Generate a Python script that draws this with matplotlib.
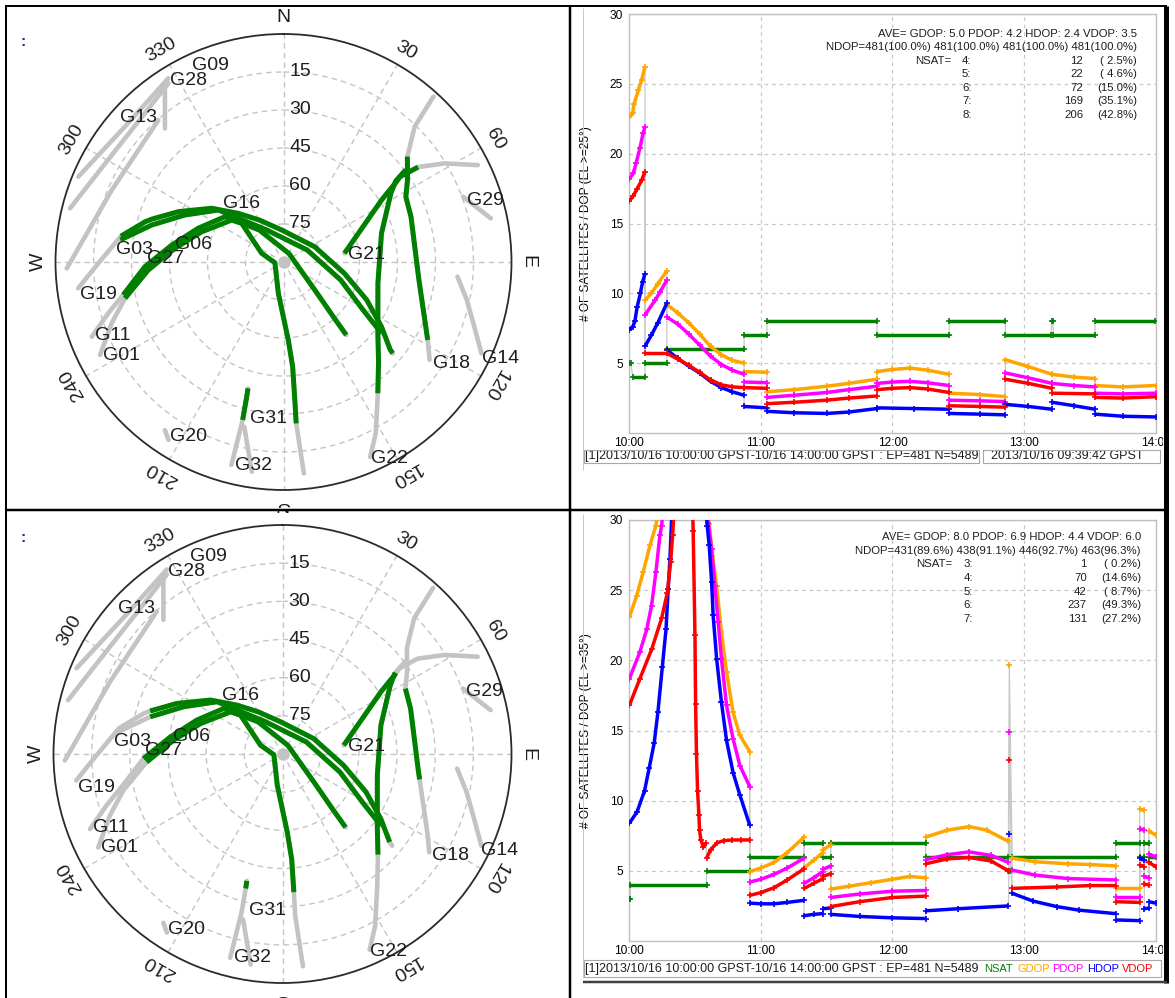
import numpy as np
import matplotlib
matplotlib.use("Agg")
import matplotlib.pyplot as plt
from matplotlib.lines import Line2D
from matplotlib.patches import Rectangle
from matplotlib.transforms import Bbox, TransformedBbox

plt.rcParams['font.family'] = ['Liberation Sans', 'DejaVu Sans']

W, H = 1175, 998

# ------------------------------------------------------------------ sky plot data
# satellite tracks as (azimuth deg, elevation deg)
trk_g19 = [(-97.3, 8.3), (-90.4, 16.9), (-81.0, 25.0), (-73.8, 33.1), (-72.0, 35.3), (-64.4, 44.0),
           (-53.2, 54.6), (-42.9, 63.8), (-29.9, 70.9), (-3.6, 77.3), (63.9, 76.3), (100.5, 65.6),
           (114.5, 53.9), (123.4, 43.7), (129.4, 35.5), (129.9, 33.8)]
trk_g03 = [(-82.3, 25.0), (-74.3, 36.0), (-64.5, 46.9), (-51.4, 57.1), (-27.7, 75.7), (63.3, 79.5),
           (107.5, 66.3), (121.1, 53.3), (126.0, 42.2)]
trk_g11 = [(-111.3, 8.8), (-106.3, 17.9), (-101.6, 25.4), (-91.9, 35.3), (-81.4, 45.4), (-68.4, 53.8),
           (-52.2, 60.8), (-37.1, 74.2), (31.8, 86.0), (131.8, 73.4), (137.7, 60.8), (139.3, 52.0)]
trk_g01 = [(243.1, 8.8), (250.4, 18.0), (257.1, 25.8), (266.6, 36.5), (277.2, 46.8), (290.3, 55.6),
           (309.0, 63.7), (312.8, 67.5), (291.8, 80.7), (265.3, 86.6), (189.4, 77.5), (176.5, 59.2),
           (175.0, 48.5), (175.3, 35.5), (175.5, 26.1), (174.5, 6.2)]
trk_g21 = [(81.9, 65.7), (66.1, 55.7), (57.7, 44.2), (54.6, 35.3), (53.8, 33.0), (54.8, 25.0),
           (58.5, 15.5), (63.5, 4.3)]
trk_g22 = [(156.0, 5.8), (151.7, 13.2), (144.3, 26.2), (136.5, 35.5), (127.1, 43.3), (102.7, 51.8),
           (73.7, 49.7), (57.4, 39.7), (54.2, 35.4), (53.0, 29.6)]
trk_g18 = [(123.8, 20.6), (118.4, 25.3), (100.5, 35.2), (96.2, 36.4), (70.5, 36.6), (62.0, 35.3),
           (56.5, 31.3), (49.6, 25.8), (44.1, 15.6), (42.2, 1.9)]
trk_g29 = [(70.0, 14.6), (78.1, 6.4)]
trk_g14 = [(94.8, 21.1), (101.7, 16.1), (108.7, 10.5), (114.8, 3.9)]
trk_g31 = [(194.4, 7.3), (194.5, 25.6), (195.3, 35.2), (195.7, 38.2)]
trk_g32 = [(188.6, 6.3), (193.4, 23.2)]
trk_g20 = [(215.2, 8.8), (212.9, 6.4)]
trk_g28 = [(327.9, 4.4), (310.5, 7.7), (292.6, 2.3)]
trk_g13 = [(327.2, 6.1), (304.9, 10.5), (284.1, 3.1)]
trk_g09 = [(325.9, 6.5), (318.4, 19.5)]
trk_nw = [(318.6, 15.3), (292.7, 16.5), (268.3, 4.4)]

sky_tracks = [trk_g28, trk_g13, trk_g09, trk_nw, trk_g29, trk_g14, trk_g20, trk_g32,
              trk_g19, trk_g03, trk_g11, trk_g01, trk_g21, trk_g22, trk_g18, trk_g31]

label_names = ['G09', 'G28', 'G13', 'G19', 'G11', 'G01', 'G03', 'G27', 'G06', 'G16',
               'G21', 'G29', 'G18', 'G14', 'G22', 'G31', 'G32', 'G20']
label_az = [335.0, 328.0, 311.5, 260.8, 248.8, 242.7, 274.1, 271.5, 278.9, 314.3,
            83.8, 71.3, 124.2, 115.9, 156.1, 192.1, 193.4, 213.1]
label_el = [4.2, 5.3, 3.8, 8.6, 10.2, 9.9, 23.6, 36.0, 46.6, 56.8,
            64.3, 13.7, 18.8, 3.1, 5.2, 26.9, 7.6, 7.7]

az_ticks = [0, 30, 60, 90, 120, 150, 180, 210, 240, 270, 300, 330]
az_names = ['N', '30', '60', 'E', '120', '150', 'S', '210', '240', 'W', '300', '330']
el_rings = [15, 30, 45, 60, 75]

# ------------------------------------------------------------------ DOP data
# time in minutes after 10:00 GPST
hour_ticks = [0, 60, 120, 180, 240]
hour_labels = ['10:00', '11:00', '12:00', '13:00', '14:00']

# number of satellites: (start, end, count)
top_nsat = [(0.0, 0.6, 5), (1.6, 7.1, 4), (7.1, 17.1, 5), (17.1, 52.3, 6), (52.3, 62.7, 7),
            (62.7, 112.9, 8), (112.9, 145.9, 7), (145.9, 171.5, 8), (171.5, 192.4, 7),
            (192.6, 193.2, 8), (193.4, 212.4, 7), (212.4, 239.6, 8)]
top_gdop = [([0, 1.5, 2.1, 4.1, 5.6, 7.1], [22.6, 22.9, 23.55, 24.55, 25.3, 26.2]),
            ([7.1, 10, 13, 17.1], [9.5, 10.0, 10.7, 11.6]),
            ([17.1, 22, 27, 32, 37, 42, 47, 52.3], [9.2, 8.6, 7.9, 7.1, 6.2, 5.6, 5.2, 5.0]),
            ([52.3, 62.7], [4.4, 4.35]),
            ([62.7, 75, 90, 100, 112.9], [2.95, 3.1, 3.35, 3.55, 3.85]),
            ([112.9, 120, 128, 136, 145.9], [4.4, 4.55, 4.65, 4.5, 4.2]),
            ([145.9, 160, 171.5], [2.85, 2.75, 2.6]),
            ([171.5, 182, 192.8], [5.25, 4.75, 4.2]),
            ([192.8, 203, 212.4], [4.2, 4.0, 3.9]),
            ([212.4, 225, 240], [3.4, 3.3, 3.4])]
top_pdop = [([0, 1.8, 3, 4.8, 6.3, 7.1], [18.2, 18.6, 19.3, 20.4, 21.5, 21.9]),
            ([7.1, 11.7, 14, 17.1], [8.45, 9.5, 10.1, 10.95]),
            ([17.1, 22, 27, 32, 37, 42, 47, 52.3], [8.3, 7.8, 7.1, 6.3, 5.5, 4.9, 4.5, 4.2]),
            ([52.3, 62.7], [3.65, 3.6]),
            ([62.7, 75, 90, 100, 112.9], [2.55, 2.7, 2.9, 3.1, 3.35]),
            ([112.9, 120, 128, 136, 145.9], [3.55, 3.65, 3.7, 3.6, 3.4]),
            ([145.9, 160, 171.5], [2.35, 2.3, 2.25]),
            ([171.5, 182, 192.8], [4.3, 3.95, 3.55]),
            ([192.8, 203, 212.4], [3.55, 3.4, 3.3]),
            ([212.4, 225, 240], [2.85, 2.8, 2.85])]
top_hdop = [([0, 1.5, 2.5, 3.5, 5, 6, 7.1], [7.4, 7.6, 8.0, 9.0, 10.0, 10.8, 11.4]),
            ([7.1, 10, 13, 17.1], [6.2, 7.0, 7.9, 9.3]),
            ([17.1, 22, 27, 32, 37, 42, 47, 52.3], [5.95, 5.35, 4.8, 4.3, 3.7, 3.25, 2.95, 2.7]),
            ([52.3, 62.7], [1.9, 1.8]),
            ([62.7, 75, 90, 100, 112.9], [1.55, 1.45, 1.4, 1.5, 1.75]),
            ([112.9, 130, 145.9], [1.8, 1.75, 1.7]),
            ([145.9, 160, 171.5], [1.4, 1.35, 1.3]),
            ([171.5, 182, 192.8], [2.05, 1.9, 1.7]),
            ([192.8, 203, 212.4], [2.2, 1.95, 1.7]),
            ([212.4, 225, 240], [1.35, 1.2, 1.15])]
top_vdop = [([0, 1.8, 3.6, 5.6, 7.1], [16.6, 17.0, 17.5, 18.1, 18.7]),
            ([7.1, 17.1], [5.7, 5.7]),
            ([17.1, 22, 27, 32, 37, 42, 47, 52.3], [5.7, 5.3, 4.85, 4.35, 3.8, 3.45, 3.3, 3.25]),
            ([52.3, 62.7], [3.25, 3.2]),
            ([62.7, 75, 90, 100, 112.9], [2.1, 2.2, 2.35, 2.5, 2.65]),
            ([112.9, 120, 128, 136, 145.9], [3.1, 3.2, 3.25, 3.15, 2.9]),
            ([145.9, 160, 171.5], [1.95, 1.9, 1.85]),
            ([171.5, 182, 192.8], [3.85, 3.55, 3.2]),
            ([192.8, 212.4], [2.85, 2.8]),
            ([212.4, 225, 240], [2.55, 2.5, 2.6])]

bot_nsat = [(0.0, 0.3, 3), (0.5, 35.2, 4), (35.2, 54.9, 5), (54.9, 79.7, 6), (79.7, 88.3, 7),
            (88.3, 91.8, 6), (91.8, 135.1, 7), (135.1, 172.9, 6), (173.1, 173.6, 5),
            (174.6, 221.8, 6), (221.8, 232.8, 7), (232.8, 234.9, 6), (234.9, 237.0, 7),
            (237.0, 240.0, 6)]
bot_gdop = [([0, 3.3, 6.3, 9.4, 12.1, 13.3], [23.1, 24.6, 26.3, 28.2, 29.6, 31.0]),
            ([35.8, 36.4, 37.9, 39.8, 42, 44.3, 47.3, 50.4, 54.9],
             [31.0, 29.7, 27.45, 25.3, 22.0, 19.2, 16.3, 14.65, 13.5]),
            ([54.9, 60, 66, 72, 79.7], [4.95, 5.2, 5.6, 6.3, 7.4]),
            ([79.7, 84, 88.3], [5.2, 5.75, 6.3]),
            ([88.3, 91.8], [6.5, 6.85]),
            ([91.8, 100, 110, 120, 128, 135.1], [3.7, 3.9, 4.15, 4.4, 4.6, 4.5]),
            ([135.1, 145, 155, 163, 172.9], [7.4, 7.9, 8.15, 7.9, 7.1]),
            ([173.3], [19.7]),
            ([174.6, 185, 200, 210, 221.8], [5.9, 5.65, 5.5, 5.45, 5.35]),
            ([221.8, 232.8], [3.75, 3.75]),
            ([232.8, 234.9], [9.4, 9.3]),
            ([234.9, 237.0], [5.7, 5.6]),
            ([237.0, 240.0], [7.85, 7.55])]
bot_pdop = [([0, 4.8, 7.9, 10.1, 12.1, 13.9, 14.7, 15.5], [18.7, 20.6, 22.2, 23.9, 26.3, 28.9, 29.6, 31.0]),
            ([35.3, 36, 37.5, 39, 40.5, 42, 44.3, 47.3, 50.4, 54.9],
             [31.0, 29.8, 27.9, 25.3, 22.7, 20.1, 16.8, 14.4, 12.5, 11.0]),
            ([54.9, 60, 66, 72, 79.7], [4.2, 4.4, 4.75, 5.2, 5.9]),
            ([79.7, 84, 88.3], [4.1, 4.5, 4.95]),
            ([88.3, 91.8], [5.1, 5.35]),
            ([91.8, 105, 120, 135.1], [3.1, 3.35, 3.55, 3.6]),
            ([135.1, 145, 155, 165, 172.9], [5.8, 6.15, 6.35, 6.1, 5.6]),
            ([173.3], [14.9]),
            ([174.6, 185, 200, 221.8], [5.05, 4.7, 4.45, 4.35]),
            ([221.8, 232.8], [3.15, 3.15]),
            ([232.8, 234.9], [8.0, 7.9]),
            ([234.9, 237.0], [4.6, 4.5]),
            ([237.0, 240.0], [6.2, 6.0])]
bot_hdop = [([0, 3.5, 6.9, 9, 11.3, 13, 15, 16.7, 17.7, 18.5, 19.5],
             [8.4, 9.2, 10.7, 12.3, 14.1, 16.3, 19.5, 22.2, 25.1, 27.2, 31.0]),
            ([34.8, 35.5, 36.4, 37.5, 38.2, 39.8, 42, 44.3, 47.3, 50.4, 54.9],
             [31.0, 29.6, 28.2, 25.6, 23.2, 20.1, 17.0, 14.3, 12.0, 10.4, 8.25]),
            ([54.9, 60, 66, 72, 79.7], [2.7, 2.65, 2.65, 2.75, 2.9]),
            ([79.7, 84, 88.3], [1.8, 1.9, 1.95]),
            ([88.3, 91.8], [2.3, 2.35]),
            ([91.8, 105, 120, 135.1], [1.9, 1.75, 1.65, 1.6]),
            ([135.1, 150, 172.9], [2.15, 2.3, 2.5]),
            ([173.3], [7.6]),
            ([174.6, 184, 195, 205, 221.8], [3.4, 2.85, 2.45, 2.2, 1.95]),
            ([221.8, 232.8], [1.5, 1.45]),
            ([232.8, 234.9], [5.9, 5.8]),
            ([234.9, 237.0], [2.3, 2.35]),
            ([237.0, 240.0], [2.8, 2.7])]
bot_vdop = [([0, 4.8, 10.2, 14.7, 17.3, 18.8, 19.7, 20.5], [16.8, 18.7, 20.8, 23.0, 24.8, 27.0, 28.9, 31.0]),
            ([28.8, 29.1, 29.9, 30.2, 30.6, 31.1, 31.7, 32.0, 32.6, 33.8, 35.0],
             [31.0, 29.2, 21.8, 16.9, 13.3, 10.7, 9.0, 7.9, 7.2, 6.7, 7.0]),
            ([35.2, 37, 40, 43, 47, 51, 54.9], [5.9, 6.5, 7.0, 7.15, 7.2, 7.2, 7.2]),
            ([54.9, 60, 66, 72, 79.7], [3.25, 3.45, 3.8, 4.35, 5.15]),
            ([79.7, 84, 88.3], [3.75, 4.1, 4.45]),
            ([88.3, 91.8], [4.6, 4.8]),
            ([91.8, 105, 120, 135.1], [2.45, 2.8, 3.1, 3.2]),
            ([135.1, 145, 155, 165, 172.9], [5.5, 5.85, 5.95, 5.7, 5.0]),
            ([173.3], [12.9]),
            ([174.6, 195, 210, 221.8], [3.75, 3.85, 3.95, 3.95]),
            ([221.8, 232.8], [2.8, 2.75]),
            ([232.8, 234.9], [5.4, 5.3]),
            ([234.9, 237.0], [4.05, 4.0]),
            ([237.0, 240.0], [5.6, 5.3])]

top_ave = 'AVE= GDOP: 5.0 PDOP: 4.2 HDOP: 2.4 VDOP: 3.5'
top_ndop = 'NDOP=481(100.0%) 481(100.0%) 481(100.0%) 481(100.0%)'
top_keys = [4, 5, 6, 7, 8]
top_counts = [12, 22, 72, 169, 206]
top_pcts = [2.5, 4.6, 15.0, 35.1, 42.8]

bot_ave = 'AVE= GDOP: 8.0 PDOP: 6.9 HDOP: 4.4 VDOP: 6.0'
bot_ndop = 'NDOP=431(89.6%) 438(91.1%) 446(92.7%) 463(96.3%)'
bot_keys = [3, 4, 5, 6, 7]
bot_counts = [1, 70, 42, 237, 131]
bot_pcts = [0.2, 14.6, 8.7, 49.3, 27.2]

status_text = '[1]2013/10/16 10:00:00 GPST-10/16 14:00:00 GPST : EP=481 N=5489'
cursor_text = '2013/10/16 09:39:42 GPST'
legend_names = ['NSAT', 'GDOP', 'PDOP', 'HDOP', 'VDOP']
legend_colors = ['#008000', '#ffa500', '#ff00ff', '#0000ff', '#ff0000']

# ------------------------------------------------------------------ helpers
fig = plt.figure(figsize=(W / 100, H / 100), dpi=100)
fig.patch.set_facecolor('white')


def px_box(x0, y0, x1, y1):
    return [x0 / W, 1 - y1 / H, (x1 - x0) / W, (y1 - y0) / H]


def clip_bbox(x0, y0, x1, y1):
    return TransformedBbox(Bbox.from_extents(x0 / W, 1 - y1 / H, x1 / W, 1 - y0 / H), fig.transFigure)


def fig_line(x0, y0, x1, y1, color, lw_px, z=30):
    fig.add_artist(Line2D([x0 / W, x1 / W], [1 - y0 / H, 1 - y1 / H], transform=fig.transFigure,
                          color=color, linewidth=lw_px * 0.72, zorder=z, solid_capstyle='butt'))


def fig_rect(x0, y0, x1, y1, edge, face='none', z=25, lw=0.8):
    fig.add_artist(Rectangle((x0 / W, 1 - y1 / H), (x1 - x0) / W, (y1 - y0) / H,
                             transform=fig.transFigure, edgecolor=edge, facecolor=face,
                             linewidth=lw, zorder=z))


def draw_sky(box, clip, mask):
    ax = fig.add_axes(px_box(*box), projection='polar')
    ax.set_theta_zero_location('N')
    ax.set_theta_direction(-1)
    ax.set_ylim(90, 0)
    ax.set_xticks(np.radians(az_ticks))
    ax.set_xticklabels([])
    ax.set_yticks(el_rings)
    ax.set_yticklabels([])
    ax.tick_params(length=0)
    ax.grid(True, color='#c4c4c4', linestyle=(0, (4, 3)), linewidth=1.0)
    ax.spines['polar'].set_color('#2a2a2a')
    ax.spines['polar'].set_linewidth(1.3)

    for trk in sky_tracks:
        az = np.radians([p[0] for p in trk])
        el = np.array([p[1] for p in trk], dtype=float)
        ax.plot(az, el, color='#c3c3c3', lw=3.3, solid_capstyle='round', zorder=3)
        up = np.where(el >= mask, el, np.nan)
        ax.plot(az, up, color='#008000', lw=3.6, solid_capstyle='butt', zorder=4)
    ax.plot(0, 90, 'o', color='#c3c3c3', ms=8, zorder=5)

    for name, a, e in zip(label_names, label_az, label_el):
        ax.text(np.radians(a), e, name, ha='left', va='center', fontsize=14,
                color='#1e1e1e', zorder=6)
    for v in el_rings:
        ax.annotate(str(v), xy=(0, v), xytext=(6, 0), textcoords='offset pixels',
                    ha='left', va='center', fontsize=14, color='#1e1e1e', zorder=6)
    bb = clip_bbox(*clip)
    for a, name in zip(az_ticks, az_names):
        t = ax.text(np.radians(a), -6.6, name, rotation=-a, rotation_mode='anchor',
                    ha='center', va='center', fontsize=14, color='#1e1e1e', clip_on=True)
        t.set_clip_path(None)
        t.set_clip_box(bb)
    return ax


def draw_dop(box, nsat, series, ylabel, ave, ndop, keys, counts, pcts, xr, y0, dy, xkey, xcnt):
    ax = fig.add_axes(px_box(*box))
    ax.set_xlim(0, 240)
    ax.set_ylim(0, 30)
    for sp in ax.spines.values():
        sp.set_color('#c0c0c0')
        sp.set_linewidth(1.0)
    ax.set_xticks(hour_ticks)
    ax.set_xticklabels(hour_labels, fontsize=8.6)
    ax.set_yticks([5, 10, 15, 20, 25, 30])
    ax.set_yticklabels(['5', '10', '15', '20', '25', '30'], fontsize=8.6)
    ax.tick_params(length=0, pad=3)
    ax.tick_params(axis='y', pad=4.5)
    ax.grid(True, color='#c8c8c8', linestyle=(0, (3, 3)), linewidth=0.9)
    ax.set_axisbelow(True)
    ax.set_ylabel(ylabel, fontsize=8.6)
    ax.yaxis.set_label_coords(-0.071, 0.5)

    nsat_segs = [([a, b], [n, n]) for a, b, n in nsat]
    all_series = [(nsat_segs, legend_colors[0])] + list(zip(series, legend_colors[1:]))
    # thin grey connectors between all epochs of each series
    for segs, col in all_series:
        xs = [x for s in segs for x in s[0]]
        ys = [y for s in segs for y in s[1]]
        ax.plot(xs, ys, color='#c8c8c8', lw=0.9, zorder=2)
    for segs, col in all_series:
        for xs, ys in segs:
            ax.plot(xs, ys, color=col, lw=2.5, solid_capstyle='butt', zorder=3,
                    marker='+', ms=4.5, mew=1.2)

    kw = dict(transform=ax.transAxes, fontsize=8.2, color='#1e1e1e', va='center')
    ax.text(xr, y0, ave, ha='right', **kw)
    ax.text(xr, y0 - dy, ndop, ha='right', **kw)
    for i, (k, c, p) in enumerate(zip(keys, counts, pcts)):
        yy = y0 - (i + 2) * dy
        if i == 0:
            ax.text(xkey - 0.021, yy, 'NSAT=', ha='right', **kw)
        ax.text(xkey, yy, f'{k}:', ha='left', **kw)
        ax.text(xcnt, yy, str(c), ha='right', **kw)
        ax.text(xr, yy, f'({p:4.1f}%)', ha='right', **kw)
    return ax


# ------------------------------------------------------------------ panels
draw_sky((55.5, 34, 511.5, 490), (6, 7, 568, 508), 25)
draw_sky((53.5, 525, 511.5, 983), (6, 511, 568, 998), 35)

draw_dop((629.4, 14, 1155.5, 433), top_nsat, [top_gdop, top_pdop, top_hdop, top_vdop],
         '# OF SATELLITES / DOP (EL >=25\u00b0)', top_ave, top_ndop, top_keys, top_counts, top_pcts,
         0.9648, 0.9523, 0.0322, 0.6322, 0.8622)
draw_dop((629.4, 520, 1155.5, 941), bot_nsat, [bot_gdop, bot_pdop, bot_hdop, bot_vdop],
         '# OF SATELLITES / DOP (EL >=35\u00b0)', bot_ave, bot_ndop, bot_keys, bot_counts, bot_pcts,
         0.9724, 0.9589, 0.0323, 0.6355, 0.8694)

# small marks at the top-left of the sky plots
fig.text(21 / W, 1 - 42 / H, ':', fontsize=11, color='#283070', fontweight='bold', va='center')
fig.text(21 / W, 1 - 538 / H, ':', fontsize=11, color='#283070', fontweight='bold', va='center')

# status bars
fig.text(585 / W, 1 - 456 / H, status_text, fontsize=9.0, color='#1e1e1e', va='center')
fig.text(991 / W, 1 - 456 / H, cursor_text, fontsize=9.0, color='#1e1e1e', va='center')
fig_rect(583.5, 449.5, 979, 463, '#a8a8a8')
fig_rect(983, 449.5, 1160, 463, '#a8a8a8')
fig.text(585 / W, 1 - 969 / H, status_text, fontsize=9.0, color='#1e1e1e', va='center')
for name, col, x in zip(legend_names, legend_colors, [984.2, 1017.3, 1052.6, 1087.6, 1121.8]):
    fig.text(x / W, 1 - 969 / H, name, fontsize=8.0, color=col, va='center')
fig_rect(583.5, 959.5, 1161, 977, '#a8a8a8')

# window frame lines
fig_rect(1163, 0, 1175, 998, 'white', face='white', z=28, lw=0)
fig_line(583, 8, 583, 470, '#c8c8c8', 1)
fig_line(583, 514, 583, 978, '#c8c8c8', 1)
fig_line(5, 6, 1167, 6, 'black', 2)
fig_line(5.5, 6, 5.5, 998, 'black', 2)
fig_line(569.5, 6, 569.5, 998, 'black', 2.5)
fig_line(5, 509.5, 1167, 509.5, 'black', 2.5)
fig_line(1165.5, 6, 1165.5, 983, 'black', 5)
fig_line(583, 982, 1167, 982, '#404040', 2.5)

fig.savefig('out.png', dpi=100, facecolor='white')
